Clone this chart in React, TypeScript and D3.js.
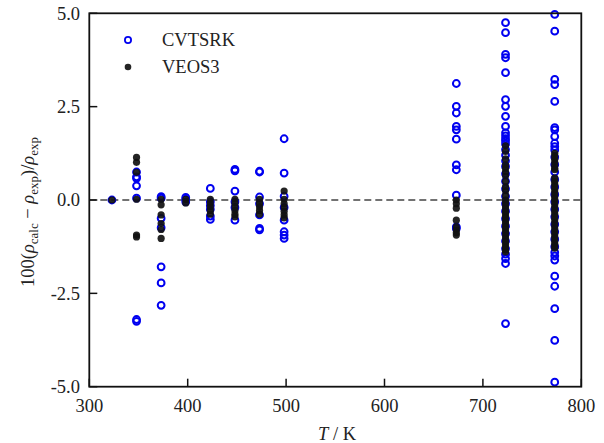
import React from "react";
import * as d3 from "d3";

const temps = [323, 348, 373, 398, 423, 448, 473, 498, 673, 723, 773];

const cvtsrk: number[][] = [
  [0.0],
  [0.75, 0.62, 0.58, 0.38, 0.05, -3.2, -3.25],
  [0.09, 0.05, -0.49, -0.74, -1.79, -2.22, -2.82],
  [0.07, 0.02, -0.05],
  [0.31, -0.05, -0.15, -0.25, -0.43, -0.52],
  [0.82, 0.78, 0.24, -0.05, -0.2, -0.54],
  [0.77, 0.75, 0.08, -0.1, -0.4, -0.76, -0.8],
  [1.64, 0.72, 0.1, -0.2, -0.54, -0.85, -0.94, -1.03],
  [3.12, 2.51, 2.33, 1.97, 1.88, 1.63, 0.94, 0.81, 0.13, -0.72, -0.76],
  [4.75, 4.48, 3.9, 3.81, 3.41, 2.69, 2.51, 2.24, 1.97, 1.8, 1.72, 1.64, 1.58, 1.5, 1.35, 1.2, 1.05, 0.9, 0.7, 0.5, 0.3, 0.1, -0.1, -0.3, -0.5, -0.7, -0.9, -1.1, -1.3, -1.45, -1.57, -1.7, -3.31],
  [4.97, 4.52, 3.23, 3.09, 2.64, 1.94, 1.88, 1.7, 1.52, 1.43, 1.34, 1.15, 0.95, 0.75, 0.55, 0.35, 0.15, -0.05, -0.25, -0.45, -0.65, -0.85, -1.05, -1.25, -1.4, -1.5, -1.61, -2.04, -2.31, -2.91, -3.76, -4.88],
];

const veos3: number[][] = [
  [0.0],
  [1.14, 1.01, 0.74, 0.02, -0.94, -0.99],
  [0.02, -0.13, -0.4, -0.63, -0.79, -1.03],
  [0.02, -0.08],
  [0.02, -0.08, -0.18, -0.28, -0.38],
  [0.02, -0.08, -0.18, -0.28, -0.38, -0.45],
  [0.02, -0.08, -0.18, -0.28, -0.38],
  [0.24, 0.02, -0.1, -0.2, -0.3, -0.4, -0.48],
  [0.0, -0.1, -0.22, -0.54, -0.72, -0.8, -0.88, -0.94],
  [1.45, 1.3, 1.1, 0.94, 0.85, 0.75, 0.65, 0.5, 0.35, 0.25, 0.12, 0.0, -0.08, -0.16, -0.24, -0.32, -0.4, -0.48, -0.56, -0.64, -0.72, -0.8, -0.88, -0.96, -1.04, -1.12, -1.2, -1.28, -1.34, -1.39],
  [1.25, 1.17, 1.09, 1.01, 0.93, 0.85, 0.81, 0.59, 0.51, 0.43, 0.35, 0.27, 0.19, 0.11, 0.03, -0.05, -0.13, -0.21, -0.29, -0.37, -0.45, -0.53, -0.61, -0.69, -0.77, -0.85, -0.93, -1.01, -1.09, -1.17, -1.23, -1.29],
];

const xTicks = [300, 400, 500, 600, 700, 800];
const yTicks = [5.0, 2.5, 0.0, -2.5, -5.0];
const seriesNames = ["CVTSRK", "VEOS3"];

const W = 604;
const H = 443;
const left = 89.3;
const right = 581.3;
const top = 13.3;
const bottom = 386.7;
const FONT = "'Liberation Serif', 'Times New Roman', serif";

export default function App() {
  const x = d3.scaleLinear().domain([300, 800]).range([left, right]);
  const y = d3.scaleLinear().domain([-5, 5]).range([bottom, top]);
  const blue = "#0000f0";

  const bluePts: [number, number][] = [];
  const blackPts: [number, number][] = [];
  temps.forEach((t, i) => {
    cvtsrk[i].forEach((v) => bluePts.push([t, v]));
    veos3[i].forEach((v) => blackPts.push([t, v]));
  });

  return (
    <svg
      width={W}
      height={H}
      style={{ position: "absolute", left: 0, top: 0, background: "#fff" }}
      fontFamily={FONT}
    >
      <rect x={0} y={0} width={W} height={H} fill="#fff" />
      <line
        x1={left}
        x2={right}
        y1={y(0)}
        y2={y(0)}
        stroke="#444"
        strokeWidth={1.7}
        strokeDasharray="7,4"
      />
      {bluePts.map(([t, v], i) => (
        <circle
          key={"b" + i}
          cx={x(t)}
          cy={y(v)}
          r={3.4}
          fill="none"
          stroke={blue}
          strokeWidth={2}
        />
      ))}
      {blackPts.map(([t, v], i) => (
        <circle
          key={"k" + i}
          cx={x(t)}
          cy={y(v)}
          r={3.6}
          fill="#111"
          fillOpacity={0.92}
        />
      ))}
      <rect
        x={left}
        y={top}
        width={right - left}
        height={bottom - top}
        fill="none"
        stroke="#111"
        strokeWidth={1.8}
      />
      {xTicks.map((t) => (
        <g key={"xt" + t}>
          <line x1={x(t)} x2={x(t)} y1={bottom} y2={bottom - 8} stroke="#111" strokeWidth={1.5} />
          <text x={x(t)} y={412} textAnchor="middle" fontSize={18.5} fill="#222">
            {t}
          </text>
        </g>
      ))}
      {yTicks.map((t) => (
        <g key={"yt" + t}>
          <line x1={left} x2={left + 8} y1={y(t)} y2={y(t)} stroke="#111" strokeWidth={1.5} />
          <text x={80} y={y(t)} dy="0.35em" textAnchor="end" fontSize={18.5} fill="#222">
            {t.toFixed(1)}
          </text>
        </g>
      ))}
      <text x={337} y={440} textAnchor="middle" fontSize={18.5} fill="#222">
        <tspan fontStyle="italic">T</tspan>
        <tspan> / K</tspan>
      </text>
      <text
        transform={`translate(34, 212) rotate(-90)`}
        textAnchor="middle"
        fontSize={18.5}
        fill="#222"
      >
        <tspan>100(</tspan>
        <tspan fontStyle="italic">ρ</tspan>
        <tspan fontSize={13} dy={4}>calc</tspan>
        <tspan dy={-4}> − </tspan>
        <tspan fontStyle="italic">ρ</tspan>
        <tspan fontSize={13} dy={4}>exp</tspan>
        <tspan dy={-4}>)/</tspan>
        <tspan fontStyle="italic">ρ</tspan>
        <tspan fontSize={13} dy={4}>exp</tspan>
      </text>
      <circle cx={128} cy={40} r={3.1} fill="none" stroke={blue} strokeWidth={1.8} />
      <text x={162} y={46} fontSize={18.5} fill="#222">{seriesNames[0]}</text>
      <circle cx={128} cy={67} r={3.3} fill="#111" fillOpacity={0.92} />
      <text x={162} y={73} fontSize={18.5} fill="#222">{seriesNames[1]}</text>
    </svg>
  );
}
